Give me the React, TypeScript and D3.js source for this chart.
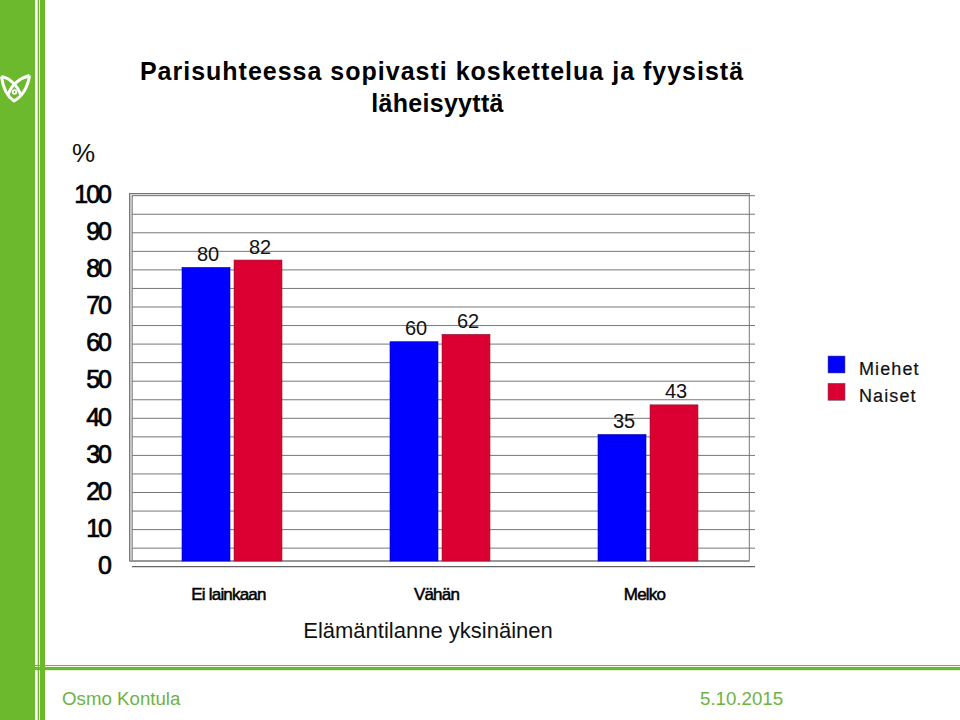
import React from "react";
import * as d3 from "d3";

const categories = ["Ei lainkaan", "Vähän", "Melko"];
const seriesNames = ["Miehet", "Naiset"];
const miehet = [80, 60, 35];
const naiset = [82, 62, 43];
const seriesValues = [miehet, naiset];
const seriesColors = ["#0000ff", "#dc0032"];
const yTicks = [100, 90, 80, 70, 60, 50, 40, 30, 20, 10, 0];
const gridTicks = d3.range(0, 101, 5);

const GREEN = "#6cb92d";
const FONT = "'Liberation Sans', Arial, sans-serif";

export default function App() {
  // bars stand on the back wall, gridlines and labels sit on the front plane
  const x0 = d3.scaleBand<string>().domain(categories).range([128, 752]);
  const x1 = d3.scaleBand<string>().domain(seriesNames).range([-50, 50]).paddingInner(4 / 52);
  const yBar = d3.scaleLinear().domain([0, 100]).range([564.5, 193.2]);
  const yGrid = d3.scaleLinear().domain([0, 100]).range([566.7, 195.7]);
  const floorY = 561;

  return (
    <svg
      width={960}
      height={720}
      style={{ position: "absolute", left: 0, top: 0, background: "#fff", fontFamily: FONT }}
    >
      {/* slide frame */}
      <rect x={0} y={0} width={35} height={720} fill={GREEN} />
      <rect x={37.7} y={0} width={1.3} height={720} fill={GREEN} />
      <rect x={40} y={0} width={5} height={720} fill={GREEN} />
      <rect x={35} y={665} width={925} height={1.1} fill={GREEN} />
      <rect x={35} y={667} width={925} height={3.2} fill={GREEN} />
      <g fill="none" stroke="#fff" strokeWidth={3} strokeLinejoin="round">
        <path d="M1.5,76.5 C3,88 8,97 14,101 C22,97 28,87 29.5,75.5" />
        <path d="M1.5,76.5 C10,78 18,86 21,96" />
        <path d="M29.5,75.5 C20,78 11,85 8,95" />
        <circle cx={14.5} cy={92} r={1.8} strokeWidth={1.8} />
      </g>

      <text textAnchor="middle" fontWeight="bold" fontSize={25} fill="#000">
        <tspan x={442} y={80} letterSpacing={1}>Parisuhteessa sopivasti koskettelua ja fyysistä</tspan>
        <tspan x={437.5} y={112} letterSpacing={0.3}>läheisyyttä</tspan>
      </text>
      <text x={72} y={162} fontSize={26} fill="#111">%</text>

      {/* walls */}
      <rect x={129.5} y={193.5} width={619.8} height={367.5} fill="#fff" stroke="#777" strokeWidth={1} />
      <rect x={130} y={194} width={2.5} height={367} fill="#c4c4c4" />
      <rect x={130} y={194} width={619} height={2} fill="#d4d4d4" />
      <line x1={132.5} x2={132.5} y1={196} y2={561} stroke="#8a8a8a" strokeWidth={0.8} />
      {gridTicks.filter(t => t > 0).map(t => (
        <line key={t} x1={132} x2={755} y1={yGrid(t)} y2={yGrid(t)} stroke="#777" strokeWidth={1} />
      ))}
      <line x1={130} x2={749} y1={floorY} y2={floorY} stroke="#777" strokeWidth={1} />
      <line x1={132} x2={755} y1={yGrid(0)} y2={yGrid(0)} stroke="#666" strokeWidth={1.2} />

      {yTicks.map(t => (
        <text
          key={t}
          x={110}
          y={yGrid(t) - 1.5}
          dy="0.35em"
          textAnchor="end"
          fontSize={25}
          letterSpacing={-2}
          stroke="#000"
          strokeWidth={0.7}
          fill="#000"
        >
          {t}
        </text>
      ))}

      {categories.map((cat, i) =>
        seriesNames.map((name, s) => {
          const v = seriesValues[s][i];
          const x = x0(cat)! + x0.bandwidth() / 2 + x1(name)!;
          return (
            <g key={cat + name}>
              <rect
                x={x}
                y={yBar(v)}
                width={x1.bandwidth()}
                height={floorY - yBar(v)}
                fill={seriesColors[s]}
                stroke={s === 0 ? "#00009a" : "#8a2038"}
                strokeWidth={0.6}
              />
              <text
                x={x + x1.bandwidth() / 2 + 2}
                y={yBar(v) - 6.5}
                textAnchor="middle"
                fontSize={20}
                fill="#111"
              >
                {v}
              </text>
            </g>
          );
        })
      )}

      {categories.map(cat => (
        <text
          key={cat}
          x={x0(cat)! + x0.bandwidth() / 2 - 3.5}
          y={600}
          textAnchor="middle"
          fontSize={17}
          letterSpacing={-0.8}
          stroke="#000"
          strokeWidth={0.5}
          fill="#000"
        >
          {cat}
        </text>
      ))}
      <text x={428} y={638} textAnchor="middle" fontSize={22} fill="#111">
        Elämäntilanne yksinäinen
      </text>

      {seriesNames.map((name, s) => (
        <g key={name}>
          <rect
            x={828}
            y={356 + s * 27.3}
            width={17}
            height={17}
            fill={seriesColors[s]}
            stroke="#555"
            strokeWidth={0.5}
          />
          <text
            x={859}
            y={374.5 + s * 27.3}
            fontSize={18}
            letterSpacing={1.1}
            stroke="#111"
            strokeWidth={0.2}
            fill="#111"
          >
            {name}
          </text>
        </g>
      ))}

      <text x={62} y={705} fontSize={18.7} fill="#6db33f">Osmo Kontula</text>
      <text x={700} y={705} fontSize={18.7} fill="#6db33f">5.10.2015</text>
    </svg>
  );
}
